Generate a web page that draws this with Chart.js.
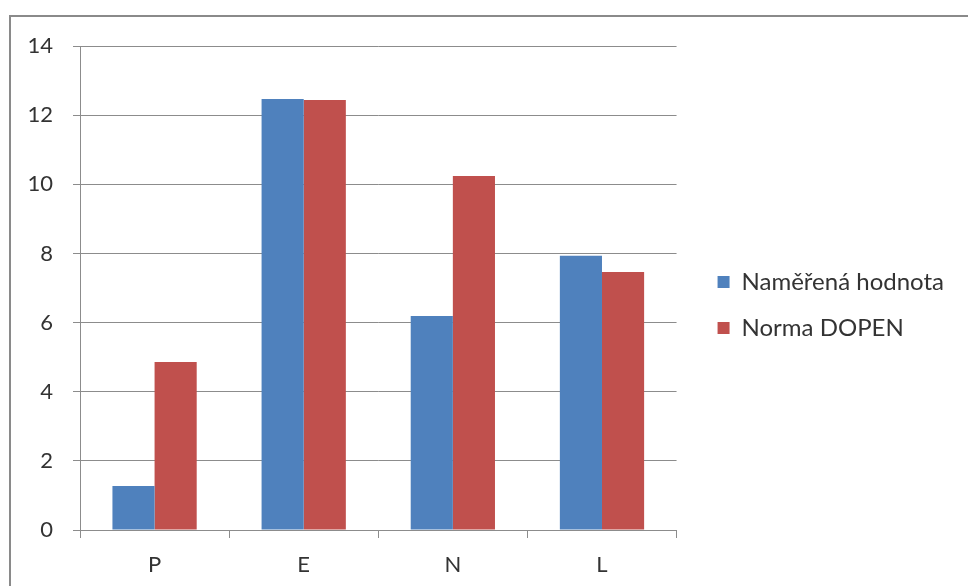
<!DOCTYPE html>
<html>
<head>
<meta charset="utf-8">
<script src="https://cdn.jsdelivr.net/npm/chart.js@4/dist/chart.umd.min.js"></script>
<style>
  html, body { margin: 0; padding: 0; background: #fff; }
  #frame {
    position: absolute; left: 9px; top: 15px; width: 1000px; height: 600px;
    border: 2px solid #8a8a8a; box-sizing: border-box;
  }
  #wrap { position: absolute; left: 0; top: 0; width: 968px; height: 586px; }
</style>
</head>
<body>
<div id="frame"></div>
<div id="wrap"><canvas id="chart"></canvas></div>
<script>
// data
const categories = ['P', 'E', 'N', 'L'];
const measured = [1.27, 12.47, 6.19, 7.93];
const normDopen = [4.86, 12.44, 10.24, 7.46];
const seriesNames = ['Naměřená hodnota', 'Norma DOPEN'];

const gridGray = '#8c8c8c';
const textGray = '#333333';

document.addEventListener('DOMContentLoaded', function () {
  const ctx = document.getElementById('chart').getContext('2d');
  new Chart(ctx, {
    type: 'bar',
    data: {
      labels: categories,
      datasets: [{
        label: seriesNames[0],
        data: measured,
        backgroundColor: '#4F81BD'
      }, {
        label: seriesNames[1],
        data: normDopen,
        backgroundColor: '#C0504D'
      }]
    },
    options: {
      responsive: true,
      maintainAspectRatio: false,
      animation: false,
      categoryPercentage: 0.565,
      barPercentage: 1.0,
      layout: { padding: { left: 10, top: 46, right: 14, bottom: 0 } },
      plugins: {
        tooltip: { enabled: false },
        legend: {
          position: 'right',
          fullSize: false,
          maxWidth: 320,
          title: { display: true, text: ' ', font: { size: 10 }, padding: { top: 11, bottom: 11 } },
          labels: {
            boxWidth: 12,
            boxHeight: 12,
            padding: 22,
            color: textGray,
            font: { family: 'Lato', size: 24 }
          }
        }
      },
      scales: {
        x: {
          grid: {
            offset: true,
            drawOnChartArea: false,
            color: gridGray,
            tickLength: 8
          },
          border: { color: gridGray },
          ticks: {
            color: textGray,
            padding: 14,
            font: { family: 'Lato', size: 22 }
          },
          afterFit: function (scale) { scale.height = 56; }
        },
        y: {
          min: 0,
          max: 14,
          ticks: {
            stepSize: 2,
            color: textGray,
            padding: 20,
            font: { family: 'Lato', size: 22 }
          },
          grid: { color: gridGray, tickLength: 7 },
          border: { color: gridGray },
          afterFit: function (scale) { scale.width = 70; }
        },
        // empty spacer between plot and legend
        gap: {
          position: 'right',
          display: true,
          grid: { display: false },
          border: { display: false },
          ticks: { display: false },
          afterFit: function (scale) { scale.width = 19; }
        }
      }
    }
  });
});
</script>
</body>
</html>
